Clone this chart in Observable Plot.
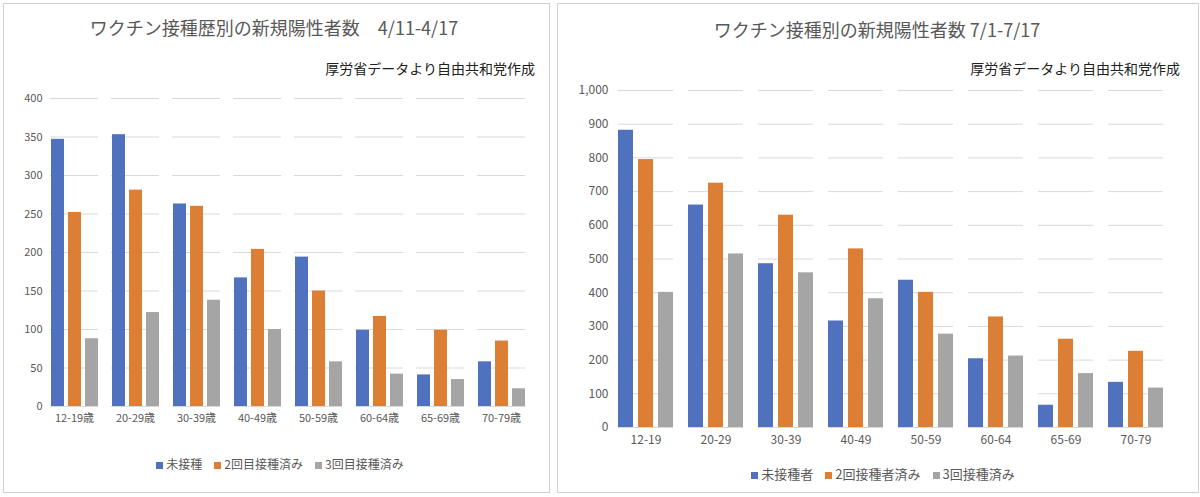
<!DOCTYPE html>
<html><head><meta charset="utf-8">
<script src="https://cdn.jsdelivr.net/npm/d3@7"></script>
<script src="https://cdn.jsdelivr.net/npm/@observablehq/plot@0.6"></script>
<style>
body{margin:0;background:#fff;font-family:"Noto Sans CJK JP","Noto Sans",sans-serif;width:1200px;height:497px;position:relative;overflow:hidden}
.panel{position:absolute;border:1px solid #d0d0d0;background:#fff}
.abs{position:absolute;white-space:nowrap}
.title{font-size:18px;color:#595959}
.sub{font-size:14px;color:#222}
.leg{font-size:12px;color:#595959}
.leg span.sw{display:inline-block;width:7px;height:7px;margin:0 3px 0 12px}
svg text{font-family:"Noto Sans CJK JP","Noto Sans",sans-serif}
</style></head><body>
<div class="panel" style="left:3px;top:3px;width:545px;height:488px"></div>
<div class="panel" style="left:557px;top:3px;width:640px;height:488px"></div>
<div id="c1" class="abs" style="left:3px;top:85px"></div>
<div id="c2" class="abs" style="left:558px;top:80px"></div>
<div class="abs title" style="left:0;width:548px;top:14px;text-align:center">ワクチン接種歴別の新規陽性者数　4/11-4/17</div>
<div class="abs sub" style="right:665px;top:58px">厚労省データより自由共和党作成</div>
<div class="abs title" style="left:557px;width:640px;top:16px;text-align:center">ワクチン接種別の新規陽性者数 7/1-7/17</div>
<div class="abs sub" style="right:20px;top:58px">厚労省データより自由共和党作成</div>
<div id="l1" class="abs leg" style="left:0;width:548px;top:455px;text-align:center"></div>
<div id="l2" class="abs leg" style="left:557px;width:640px;top:464px;text-align:center;font-size:13px"></div>
<script>
const colors=["#4f71be","#dd7e35","#a5a5a5"];
const groups1=["12-19歳","20-29歳","30-39歳","40-49歳","50-59歳","60-64歳","65-69歳","70-79歳"];
const series1=["未接種","2回目接種済み","3回目接種済み"];
const unvac1=[347,353,263,167,194,99,41,58];
const dose2_1=[252,281,260,204,150,117,99,85];
const dose3_1=[88,122,138,100,58,42,35,23];
const groups2=["12-19","20-29","30-39","40-49","50-59","60-64","65-69","70-79"];
const series2=["未接種者","2回接種者済み","3回接種済み"];
const unvac2=[882,660,486,316,437,204,66,134];
const dose2_2=[795,725,630,530,401,328,262,226];
const dose3_2=[401,515,459,382,277,212,160,117];

function make(groups,series,vals,opt){
  const data=[];
  groups.forEach((g,i)=>vals.forEach((v,j)=>data.push({g,s:series[j],v:v[i]})));
  return Plot.plot({
    width:opt.w,height:opt.h,marginTop:opt.mt,marginBottom:opt.mb,marginLeft:opt.ml,marginRight:opt.mr,
    style:{fontSize:opt.fs+"px",color:"#595959"},
    fx:{domain:groups,label:null,paddingInner:0.22,paddingOuter:0.11,tickSize:0,tickPadding:8},
    x:{domain:series,axis:null,paddingInner:0.25,paddingOuter:0},
    y:{domain:[0,opt.max],ticks:d3.range(0,opt.max+1,opt.step),label:null,tickSize:0,tickPadding:opt.tp},
    color:{domain:series,range:colors},
    marks:[
      Plot.ruleY(d3.range(0,opt.max+1,opt.step),{stroke:"#d9d9d9",strokeWidth:1}),
      Plot.barY(data,{fx:"g",x:"s",y:"v",fill:"s"})
    ]
  });
}
function legend(id,series){
  document.getElementById(id).innerHTML=series.map((s,i)=>`<span class="sw" style="background:${colors[i]}"></span>${s}`).join("");
}
document.getElementById("c1").appendChild(make(groups1,series1,[unvac1,dose2_1,dose3_1],
  {w:540,h:355,mt:13,mb:34,ml:38,mr:10,max:400,step:50,fs:11,tp:8}));
document.getElementById("c2").appendChild(make(groups2,series2,[unvac2,dose2_2,dose3_2],
  {w:630,h:372,mt:10,mb:25,ml:50,mr:16,max:1000,step:100,fs:12,tp:10}));
legend("l1",series1);legend("l2",series2);
</script></body></html>
